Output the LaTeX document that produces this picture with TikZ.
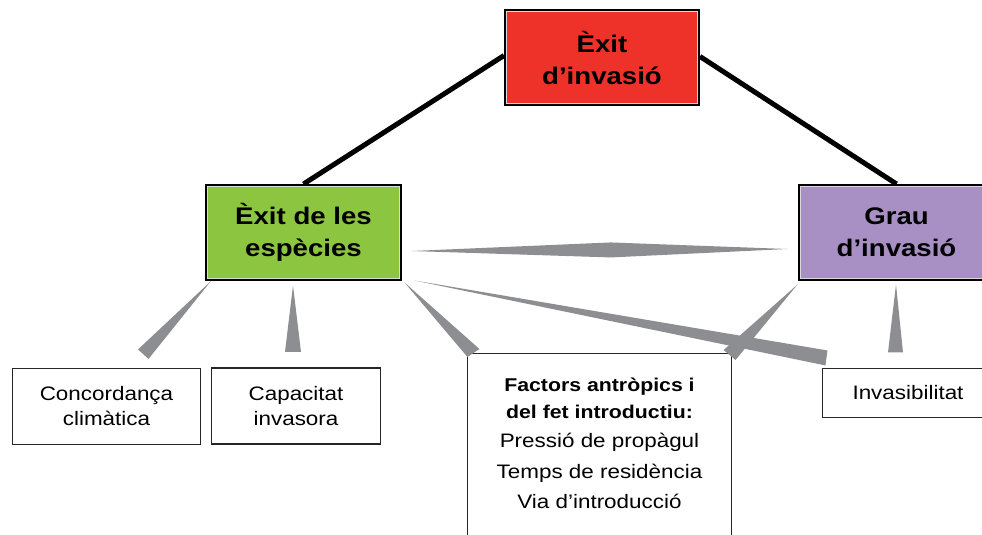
\documentclass[tikz,border=0pt]{standalone}
\usepackage{fontspec}
\setmainfont[FakeStretch=1.15]{Liberation Sans}
\usetikzlibrary{calc,backgrounds}
\definecolor{exitred}{HTML}{EE3129}
\definecolor{exitgreen}{HTML}{8CC540}
\definecolor{grauviolet}{HTML}{A88FC4}
\definecolor{wedgegray}{HTML}{8D8E92}
\begin{document}
\begin{tikzpicture}[x=1pt,y=-1pt,
  mainbox/.style={draw=black,line width=3pt,inner sep=0pt,align=center,
    font=\fontsize{24}{32}\selectfont\bfseries,minimum width=194pt,minimum height=94pt},
  smallbox/.style={draw=black!85,line width=1.1pt,fill=white,inner sep=0pt,align=center,
    font=\fontsize{19.5}{25}\selectfont},
  innerline/.style={draw=black!15,line width=0.8pt},
  link/.style={line width=5pt,black},
  wedge/.style={fill=wedgegray}]
\useasboundingbox (0,0) rectangle (982,535);

% main boxes
\node[mainbox,fill=exitred,minimum width=193pt] (exit) at (602,57.5) {Èxit\\d’invasió};
\node[mainbox,fill=exitgreen] (species) at (303.5,232.5) {Èxit de les\\espècies};
\node[mainbox,fill=grauviolet] (grau) at (896.5,232.5) {Grau\\d’invasió};
\foreach \n in {exit,species,grau}
  \draw[innerline] ($(\n.south west)+(2.3,-2.3)$) rectangle ($(\n.north east)+(-2.3,2.3)$);

% small boxes
\node[smallbox,minimum width=188pt,minimum height=76pt] (conc) at (106.5,406.5) {Concordança\\climàtica};
\node[smallbox,minimum width=169pt,minimum height=76pt] (capac) at (296,406) {Capacitat\\invasora};
\node[smallbox,minimum width=171pt,minimum height=49pt] (invas) at (908,393) {Invasibilitat};
\node[smallbox,minimum width=264pt,minimum height=200pt,anchor=north] (factors) at (599.5,352.5) {};
\node[inner sep=0pt,align=center,font=\fontsize{19.5}{30.5}\selectfont,anchor=north] (factorstext) at (599.5,378)
  {{\fontsize{18.5}{26}\selectfont\bfseries Factors antròpics i}\\[-4pt]{\fontsize{18.5}{26}\selectfont\bfseries del fet introductiu:}\\[-1pt]Pressió de propàgul\\Temps de residència\\Via d’introducció};

% black links
\begin{pgfonlayer}{background}
\draw[link] ($(exit.west)+(0,-2)$) -- (species.north);
\draw[link] ($(exit.east)+(0,-1)$) -- (grau.north);
\end{pgfonlayer}

% wedges
\coordinate (w1a) at ($(species.south west)+(6,0)$);
\coordinate (w1b) at ($(conc.north)+(31.5,-18.5)$);
\coordinate (w1c) at ($(conc.north)+(42,-9)$);
\fill[wedge] (w1a) -- (w1b) -- (w1c) -- cycle;

\coordinate (w2a) at ($(species.south)+(-10.5,4.5)$);
\coordinate (w2b) at ($(capac.north)+(-11,-15.5)$);
\coordinate (w2c) at ($(capac.north)+(5,-15.5)$);
\fill[wedge] (w2a) -- (w2b) -- (w2c) -- cycle;

\coordinate (w3a) at ($(species.south east)+(2.5,1.5)$);
\coordinate (w3b) at ($(factors.north west)+(0.5,4.5)$);
\coordinate (w3c) at ($(factors.north west)+(12.5,-3.5)$);
\fill[wedge] (w3a) -- (w3b) -- (w3c) -- cycle;

\coordinate (w4l) at ($(species.east)+(9.5,18.5)$);
\coordinate (w4r) at ($(grau.west)+(-10.5,16.5)$);
\coordinate (w4m) at ($(w4l)!0.53!(w4r)$);
\fill[wedge] (w4l) -- ($(w4m)+(0,-7.5)$) -- (w4r) -- ($(w4m)+(0,7.5)$) -- cycle;

\coordinate (w5a) at ($(species.south east)+(12.5,-0.5)$);
\coordinate (w5b) at ($(invas.north west)+(5.5,-17.5)$);
\coordinate (w5c) at ($(invas.north west)+(3.5,-2.5)$);
\fill[wedge] (w5a) -- (w5b) -- (w5c) -- cycle;

\coordinate (w6a) at ($(grau.south west)+(-0.5,3.5)$);
\coordinate (w6b) at ($(factors.north east)+(-8.5,-2.5)$);
\coordinate (w6c) at ($(factors.north east)+(3.5,7.5)$);
\fill[wedge] (w6a) -- (w6b) -- (w6c) -- cycle;

\coordinate (w7a) at ($(grau.south)+(-0.5,3.5)$);
\coordinate (w7b) at ($(invas.north)+(-20,-15.5)$);
\coordinate (w7c) at ($(invas.north)+(-5,-15.5)$);
\fill[wedge] (w7a) -- (w7b) -- (w7c) -- cycle;
\end{tikzpicture}
\end{document}
